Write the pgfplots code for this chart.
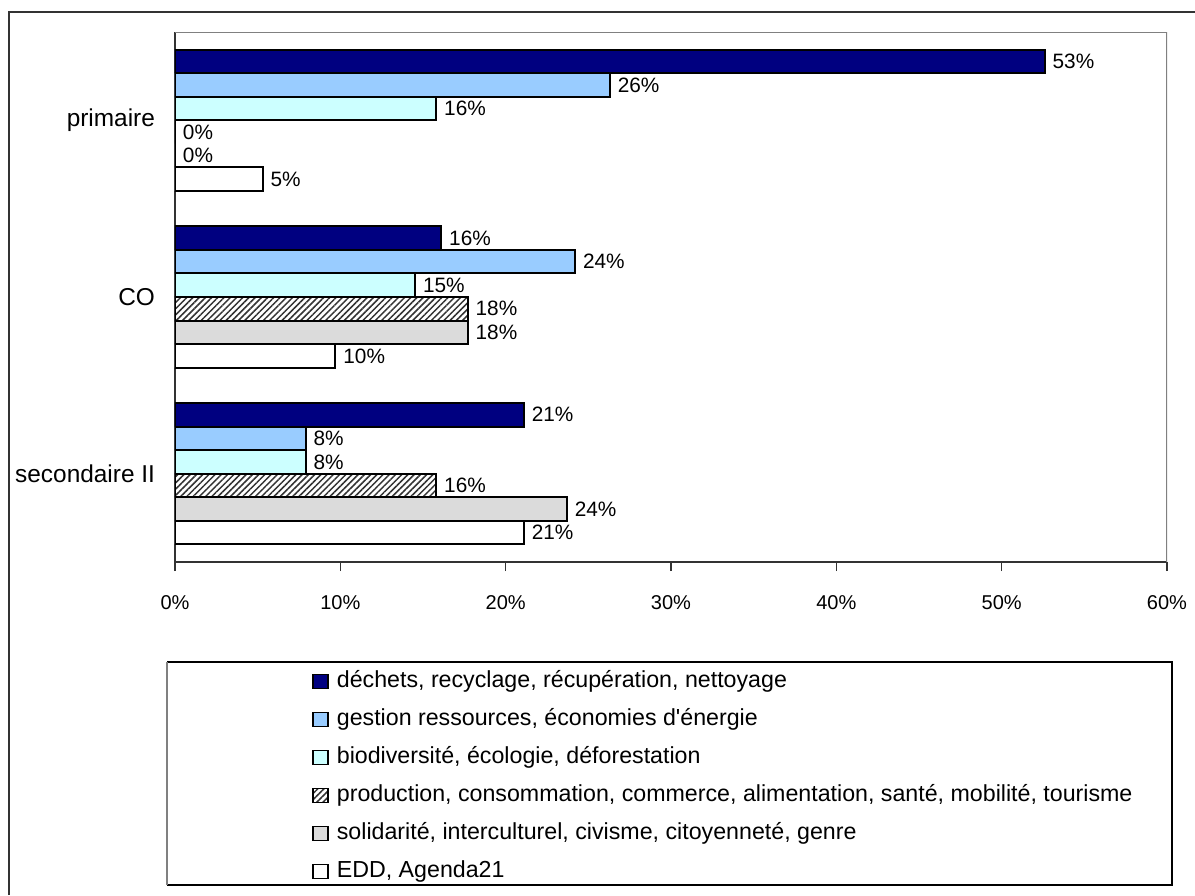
\documentclass[border=0pt]{standalone}
\usepackage{pgfplots}
\pgfplotsset{compat=1.18}
\usetikzlibrary{patterns.meta}
\usepackage{fontspec}
\setmainfont{Liberation Sans}
\definecolor{navy}{HTML}{000080}
\definecolor{lblue}{HTML}{99CCFF}
\definecolor{lcyan}{HTML}{CCFFFF}
\definecolor{frame}{HTML}{333333}
\begin{document}
\begin{tikzpicture}
\useasboundingbox (0,0) rectangle (597.5pt,447.5pt);
% outer frame (left and top visible)
\draw[frame, line width=1pt] (4.5pt,0pt) -- (4.5pt,441.5pt) -- (597.5pt,441.5pt);
% legend frame
\draw[black, line width=0.8pt] (83.5pt,116.5pt) -- (586pt,116.5pt) -- (586pt,5pt) -- (83.5pt,5pt);
\draw[gray, line width=0.8pt] (83.5pt,5pt) -- (83.5pt,116.5pt);
\begin{axis}[
  at={(87.5pt,166.5pt)}, anchor=south west,
  scale only axis, width=496pt, height=265pt,
  xbar, bar width=0.1333,
  xmin=0, xmax=60, xtick={0,10,...,60},
  xticklabel={\pgfmathprintnumber{\tick}\%},
  /pgf/number format/assume math mode=true,
  ymin=-0.5, ymax=2.5, y dir=reverse,
  ytick={0,1,2}, yticklabels={primaire, CO, secondaire II},
  axis x line*=bottom, axis y line*=left,
  axis line style={frame, line width=1pt},
  tick align=outside, major tick length=4.5pt,
  xtick style={frame, line width=0.8pt},
  ytick style={draw=none},
  xticklabel style={font=\fontsize{10}{12}\selectfont, yshift=-8.5pt},
  yticklabel style={font=\fontsize{12.2}{14}\selectfont, xshift=-2pt},
  nodes near coords={\pgfmathprintnumber[fixed,precision=0]{\pgfplotspointmeta}\%},
  nodes near coords style={font=\fontsize{10.4}{12}\selectfont, anchor=west, inner sep=0pt, xshift=3.5pt},
  legend style={at={(axis description cs:0.138,-0.199)}, anchor=north west, draw=none, fill=none,
    font=\fontsize{11.6}{13}\selectfont, inner sep=0pt, row sep=5.5pt,
    nodes={inner sep=1pt, text height=9pt, text depth=2.5pt},
    /tikz/every odd column/.append style={column sep=3pt}},
  legend cell align=left,
  legend image code/.code={\draw[#1, line width=0.8pt] (0pt,-3.5pt) rectangle (7.5pt,3.5pt);},
]
\addplot[draw=black, line width=1pt, fill=navy, bar shift=-0.3333] coordinates {(52.6,0) (16.1,1) (21.1,2)};
\addplot[draw=black, line width=1pt, fill=lblue, bar shift=-0.2] coordinates {(26.3,0) (24.2,1) (7.9,2)};
\addplot[draw=black, line width=1pt, fill=lcyan, bar shift=-0.0667] coordinates {(15.8,0) (14.52,1) (7.9,2)};
\addplot[draw=black, line width=1pt, fill=white, bar shift=0.0667,
  postaction={pattern={Lines[angle=45,distance=2.2pt,line width=0.75pt]}, pattern color=black!80}]
  coordinates {(0,0) (17.7,1) (15.8,2)};
\addplot[draw=black, line width=1pt, fill=black!14, bar shift=0.2] coordinates {(0,0) (17.7,1) (23.7,2)};
\addplot[draw=black, line width=1pt, fill=white, bar shift=0.3333] coordinates {(5.3,0) (9.7,1) (21.1,2)};
\draw[gray, line width=0.8pt] (rel axis cs:0,1) -- (rel axis cs:1,1) -- (rel axis cs:1,0);
\legend{déchets{,} recyclage{,} récupération{,} nettoyage,
  gestion ressources{,} économies d\textquotesingle énergie,
  biodiversité{,} écologie{,} déforestation,
  production{,} consommation{,} commerce{,} alimentation{,} santé{,} mobilité{,} tourisme,
  solidarité{,} interculturel{,} civisme{,} citoyenneté{,} genre,
  EDD{,} Agenda21}
\end{axis}
\end{tikzpicture}
\end{document}
